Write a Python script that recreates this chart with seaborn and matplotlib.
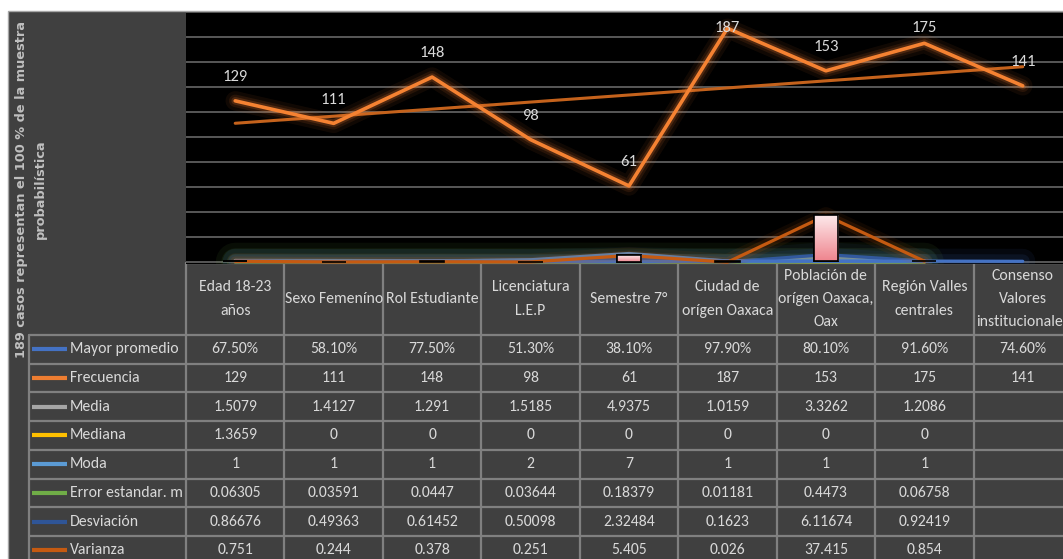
import numpy as np
import pandas as pd
import matplotlib
matplotlib.use("Agg")
import matplotlib.pyplot as plt
import matplotlib.patheffects as pe
import matplotlib.transforms as mtransforms
from matplotlib.colors import LinearSegmentedColormap
import seaborn as sns

# ---- data -------------------------------------------------------------
categorias = ["Edad 18-23\naños", "Sexo Femeníno", "Rol Estudiante",
              "Licenciatura\nL.E.P", "Semestre 7°", "Ciudad de\norígen Oaxaca",
              "Población de\norígen Oaxaca,\nOax", "Región Valles\ncentrales",
              "Consenso\nValores\ninstitucionales"]
mayor_promedio = [0.675, 0.581, 0.775, 0.513, 0.381, 0.979, 0.801, 0.916, 0.746]
frecuencia = [129, 111, 148, 98, 61, 187, 153, 175, 141]
media = [1.5079, 1.4127, 1.291, 1.5185, 4.9375, 1.0159, 3.3262, 1.2086, np.nan]
mediana = [1.3659, 0, 0, 0, 0, 0, 0, 0, np.nan]
moda = [1, 1, 1, 2, 7, 1, 1, 1, np.nan]
error_estandar = [0.06305, 0.03591, 0.0447, 0.03644, 0.18379, 0.01181, 0.4473, 0.06758, np.nan]
desviacion = [0.86676, 0.49363, 0.61452, 0.50098, 2.32484, 0.1623, 6.11674, 0.92419, np.nan]
varianza = [0.751, 0.244, 0.378, 0.251, 5.405, 0.026, 37.415, 0.854, np.nan]

nombres = ["Mayor promedio", "Frecuencia", "Media", "Mediana", "Moda",
           "Error estandar. m", "Desviación", "Varianza"]
valores = [mayor_promedio, frecuencia, media, mediana, moda,
           error_estandar, desviacion, varianza]
colores = ["#4472C4", "#ED7D31", "#A5A5A5", "#FFC000", "#5B9BD5",
           "#70AD47", "#2F5597", "#C55A11"]
titulo = "189 casos representan el 100 % de la muestra\nprobabilística"

pos = np.arange(len(categorias))
df = pd.DataFrame([
    {"pos": p, "serie": n, "valor": v}
    for n, vals in zip(nombres, valores) for p, v in zip(pos, vals)
])

# ---- style ------------------------------------------------------------
sns.set_style("dark")
plt.rcParams["font.family"] = ["Carlito", "Lato", "DejaVu Sans"]
TXT = "#d9d9d9"
GRIDC = "#808080"
PANEL = "#404040"
FS = 11.3

W, H = 1063, 559
fig = plt.figure(figsize=(W / 100, H / 100), dpi=100, facecolor="white")

# background / table layer in pixel coordinates
bg = fig.add_axes([0, 0, 1, 1], zorder=0)
bg.set_xlim(0, W)
bg.set_ylim(H, 0)
bg.axis("off")
bg.add_patch(plt.Rectangle((8, 11), W, H, facecolor=PANEL,
                           edgecolor="#a6a6a6", lw=1))

# chart axes (right end extends past the figure edge)
top_px, bot_px, left_px, right_px = 12, 263.5, 186, 1072
ax = fig.add_axes([left_px / W, 1 - bot_px / H, (right_px - left_px) / W,
                   (bot_px - top_px) / H], zorder=1)
ax.set_facecolor("black")
ax.set_xlim(-0.5, len(categorias) - 0.5)
ax.set_ylim(-1, 200)
ax.set_yticks(np.arange(0, 201, 20))
ax.set_xticks([])
ax.tick_params(left=False, labelleft=False)
ax.grid(axis="y", color="#6f6f6f", lw=1.1)
ax.grid(axis="x", visible=False)
for s in ax.spines.values():
    s.set_visible(False)


def glow(color, widths, alphas):
    return [pe.Stroke(linewidth=w, foreground=color, alpha=a)
            for w, a in zip(widths, alphas)] + [pe.Normal()]


# low-value series
low_order = ["Mediana", "Media", "Error estandar. m", "Moda",
             "Desviación", "Mayor promedio", "Varianza"]
for n in low_order:
    c = colores[nombres.index(n)]
    sub = df[df.serie == n].dropna()
    if n == "Error estandar. m":
        eff = glow(c, [28, 20, 12], [0.08, 0.10, 0.13])
    elif n in ("Desviación", "Mayor promedio"):
        eff = glow(c, [18, 10], [0.08, 0.11])
    elif n == "Varianza":
        eff = glow(c, [12, 7], [0.08, 0.14])
    else:
        eff = [pe.Normal()]
    sns.lineplot(data=sub, x="pos", y="valor", color=c, lw=2.3, ax=ax,
                 path_effects=eff, zorder=3)

# up / down bars between first and last series
base = np.array(mayor_promedio)
tope = np.array(varianza)
ok = ~np.isnan(tope)
alto = tope - base
up = ok & (alto > 0)
down = ok & (alto <= 0)
ax.bar(pos[down], alto[down], bottom=base[down], width=0.245,
       color="black", edgecolor="black", lw=1.2, zorder=5)
up_bars = ax.bar(pos[up], alto[up], bottom=base[up], width=0.245,
                 color="#f4a6ad", edgecolor="black", lw=1.2, zorder=5)
grad = LinearSegmentedColormap.from_list("rosa", ["#ef858e", "#fde9eb"])
for patch in up_bars:
    x0, y0 = patch.get_x(), patch.get_y()
    im = ax.imshow(np.linspace(0, 1, 64).reshape(-1, 1), cmap=grad,
                   origin="lower", aspect="auto", zorder=5.5,
                   extent=[x0, x0 + patch.get_width(), y0, y0 + patch.get_height()])
    im.set_clip_path(patch)
    ax.add_patch(plt.Rectangle((x0, y0), patch.get_width(), patch.get_height(),
                               fill=False, edgecolor="black", lw=1.2, zorder=6))
ax.set_xlim(-0.5, len(categorias) - 0.5)
ax.set_ylim(-1, 200)

# frequency line with trend
freq = df[df.serie == "Frecuencia"]
sns.regplot(data=freq, x="pos", y="valor", scatter=False, ci=None, ax=ax,
            line_kws=dict(color="#C4621C", lw=2.2, zorder=4))
sns.lineplot(data=freq, x="pos", y="valor", color="#F58232", lw=2.6, ax=ax,
             zorder=7, path_effects=glow("#ED7D31", [14, 9, 5.5],
                                         [0.07, 0.11, 0.2]))
for p, v in zip(pos, frecuencia):
    ax.text(p, min(v + 19, 187), f"{v}", ha="center", va="center",
            color=TXT, fontsize=FS + 0.7, zorder=8)
ax.set_xlabel("")
ax.set_ylabel("")

# ---- data table -------------------------------------------------------
tr = mtransforms.blended_transform_factory(ax.transData, bg.transData)
head_top, head_bot, row_h = 263, 335, 28.7
n_rows = len(nombres)
table_bot = head_bot + row_h * n_rows
lkw = dict(color=GRIDC, lw=1.6, zorder=2)

for k in range(len(categorias) + 1):
    bg.plot([k - 0.5, k - 0.5], [head_top, table_bot], transform=tr, **lkw)
bg.plot([-0.5, len(categorias) - 0.5], [head_top, head_top], transform=tr, **lkw)
bg.plot([29, 29], [head_bot, table_bot], **lkw)
for r in range(n_rows + 1):
    y = head_bot + r * row_h
    bg.plot([29, left_px], [y, y], **lkw)
    bg.plot([-0.5, len(categorias) - 0.5], [y, y], transform=tr, **lkw)

for p, cat in zip(pos, categorias):
    bg.text(p, (head_top + head_bot) / 2, cat, transform=tr, ha="center",
            va="center", color=TXT, fontsize=FS, linespacing=1.85,
            multialignment="center", zorder=3)


def fmt(nombre, v):
    if v is None or (isinstance(v, float) and np.isnan(v)):
        return ""
    if nombre == "Mayor promedio":
        return f"{v * 100:.2f}%"
    return f"{v:g}"


for r, (n, vals, c) in enumerate(zip(nombres, valores, colores)):
    yc = head_bot + (r + 0.5) * row_h
    bg.plot([32, 67], [yc, yc], color=c, lw=3, solid_capstyle="butt", zorder=3)
    bg.text(70, yc, n, ha="left", va="center", color=TXT, fontsize=FS, zorder=3)
    for p, v in zip(pos, vals):
        bg.text(p, yc, fmt(n, v), transform=tr, ha="center", va="center",
                color=TXT, fontsize=FS, zorder=3)

# rotated side title
bg.text(31, 189, titulo, rotation=90, ha="center", va="center",
        multialignment="center", color="#bfbfbf", fontsize=9.3,
        fontweight="bold", family="DejaVu Sans", linespacing=1.55, zorder=3)

fig.savefig("out.png", dpi=100, facecolor="white")
